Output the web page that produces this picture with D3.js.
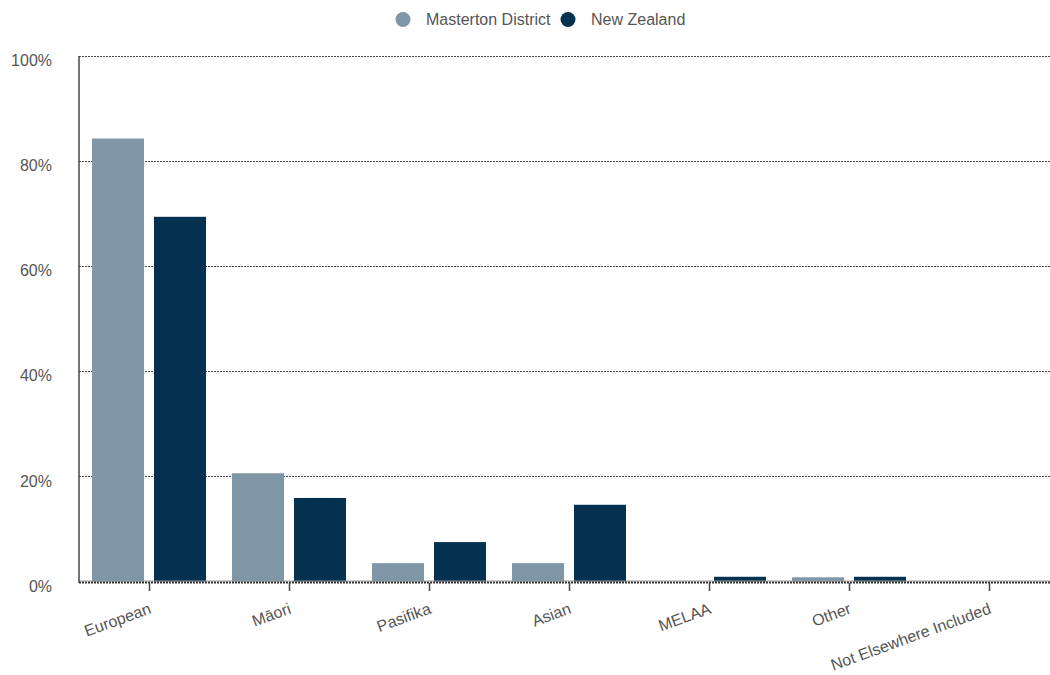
<!DOCTYPE html>
<html>
<head>
<meta charset="utf-8">
<script src="https://cdn.jsdelivr.net/npm/d3@7"></script>
<style>
  html, body { margin: 0; padding: 0; background: #fff; }
  svg { display: block; font-family: "Liberation Sans", Arial, sans-serif; }
</style>
</head>
<body>
<svg id="chart" width="1050" height="675"></svg>
<script>
const categories = ["European", "Māori", "Pasifika", "Asian", "MELAA", "Other", "Not Elsewhere Included"];
const seriesNames = ["Masterton District", "New Zealand"];
const masterton = [84.3, 20.6, 3.5, 3.5, 0, 0.8, 0];
const newZealand = [69.4, 15.9, 7.5, 14.6, 0.9, 0.9, 0];
const yTicks = [0, 20, 40, 60, 80, 100];
const colors = ["#7f96a6", "#03314f"];

(function () {
const svg = d3.select("#chart");
const pLeft = 79, pRight = 1059, pTop = 56, pBottom = 581.5;

const x0 = d3.scaleBand().domain(categories).range([pLeft, pRight]).paddingInner(0.186).paddingOuter(0.093);
const x1 = d3.scaleBand().domain(seriesNames).range([0, x0.bandwidth()]).paddingInner(0.161).paddingOuter(0);
const y = d3.scaleLinear().domain([0, 100]).range([pBottom, pTop]);

// gridlines
svg.append("g").selectAll("line").data(yTicks.filter(d => d > 0)).join("line")
  .attr("x1", pLeft).attr("x2", 1050)
  .attr("y1", d => Math.round(y(d)) + 0.5).attr("y2", d => Math.round(y(d)) + 0.5)
  .attr("stroke", "#444").attr("stroke-width", 1).attr("stroke-dasharray", "2,1");

// y labels
svg.append("g").selectAll("text").data(yTicks).join("text")
  .attr("x", 52).attr("y", d => y(d) + 4.5)
  .attr("dy", "0.35em")
  .attr("text-anchor", "end")
  .attr("font-size", 16).attr("fill", "#555")
  .text(d => d + "%");

// bars
const data = categories.map((c, i) => ({ cat: c, vals: [masterton[i], newZealand[i]] }));
const groups = svg.append("g").selectAll("g").data(data).join("g")
  .attr("transform", d => `translate(${x0(d.cat)},0)`);
groups.selectAll("rect").data(d => d.vals.map((v, j) => ({ name: seriesNames[j], v, j }))).join("rect")
  .attr("x", d => x1(d.name)).attr("width", x1.bandwidth())
  .attr("y", d => y(d.v)).attr("height", d => y(0) - y(d.v))
  .attr("fill", d => colors[d.j]);

// baseline: solid light line + dotted line
svg.append("line").attr("x1", pLeft).attr("x2", 1050).attr("y1", 581).attr("y2", 581)
  .attr("stroke", "#9a9a9a").attr("stroke-width", 1);
svg.append("line").attr("x1", pLeft).attr("x2", 1050).attr("y1", 582.5).attr("y2", 582.5)
  .attr("stroke", "#333").attr("stroke-width", 2).attr("stroke-dasharray", "2,1");

// left axis line
svg.append("line").attr("x1", 79).attr("x2", 79).attr("y1", 56).attr("y2", 583)
  .attr("stroke", "#444").attr("stroke-width", 1.5);

// x ticks
svg.append("g").selectAll("line").data(categories).join("line")
  .attr("x1", d => Math.round(x0(d) + x0.bandwidth() / 2) + 0.5)
  .attr("x2", d => Math.round(x0(d) + x0.bandwidth() / 2) + 0.5)
  .attr("y1", 583).attr("y2", 591)
  .attr("stroke", "#444").attr("stroke-width", 1.5);

// x labels
svg.append("g").selectAll("text").data(categories).join("text")
  .attr("transform", d => `translate(${x0(d) + x0.bandwidth() / 2 + 3},613) rotate(-20)`)
  .attr("text-anchor", "end")
  .attr("font-size", 16).attr("fill", "#555")
  .text(d => d);

// legend
const legend = svg.append("g");
const legItems = [{ name: seriesNames[0], cx: 403, tx: 426 }, { name: seriesNames[1], cx: 568, tx: 591 }];
legend.selectAll("circle").data(legItems).join("circle")
  .attr("cx", d => d.cx).attr("cy", 19.5).attr("r", 7.5)
  .attr("fill", (d, i) => colors[i]);
legend.selectAll("text").data(legItems).join("text")
  .attr("x", d => d.tx).attr("y", 19.5).attr("dy", "0.35em")
  .attr("font-size", 16).attr("fill", "#555")
  .text(d => d.name);
})();
</script>
</body>
</html>
